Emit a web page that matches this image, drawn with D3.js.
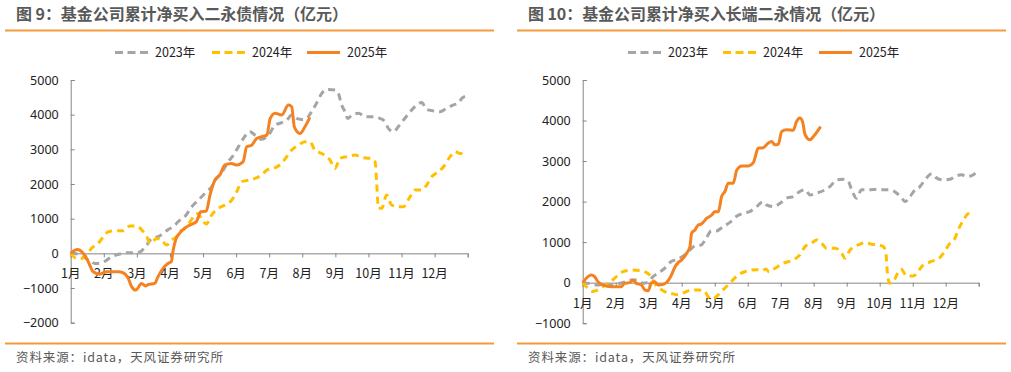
<!DOCTYPE html>
<html><head><meta charset="utf-8">
<script src="https://cdn.jsdelivr.net/npm/d3@7"></script>
<style>
html,body{margin:0;padding:0;background:#fff;}
svg{display:block;font-family:"Noto Sans CJK SC","Noto Sans",sans-serif;}
</style></head>
<body>
<svg id="c" width="1011" height="372"></svg>
<script>
// ---------- data ----------
const monthLabels = ["1月","2月","3月","4月","5月","6月","7月","8月","9月","10月","11月","12月"];
const seriesNames = ["2023年","2024年","2025年"];
const leftTicks = [5000,4000,3000,2000,1000,0,-1000,-2000];
const rightTicks = [5000,4000,3000,2000,1000,0,-1000];
const titleLeft = "图 9：基金公司累计净买入二永债情况（亿元）";
const titleRight = "图 10：基金公司累计净买入长端二永情况（亿元）";
const sourceText = "资料来源：idata，天风证券研究所";

// [month position (0 = 1月初), 亿元]
const left2023 = [[0,0],[0.2,-20],[0.4,-110],[0.6,-230],[0.73,-290],[0.94,-270],[1.24,-95],[1.49,-20],[1.74,20],[2.0,20],[2.14,70],[2.3,240],[2.45,430],[2.65,480],[2.8,577],[2.95,690],[3.1,770],[3.25,915],[3.45,1060],[3.66,1345],[3.86,1540],[4.06,1730],[4.26,1920],[4.41,2160],[4.61,2400],[4.76,2640],[4.92,2835],[5.07,3075],[5.22,3315],[5.42,3510],[5.57,3410],[5.77,3290],[5.98,3410],[6.18,3700],[6.38,3770],[6.53,3840],[6.68,3990],[6.83,3890],[6.98,3860],[7.13,3890],[7.28,4085],[7.43,4330],[7.59,4615],[7.74,4730],[7.99,4710],[8.09,4615],[8.19,4280],[8.29,4085],[8.37,3890],[8.5,3990],[8.7,4040],[8.9,3940],[9.15,3940],[9.35,3890],[9.5,3795],[9.6,3605],[9.76,3510],[9.9,3650],[10.06,3845],[10.26,4085],[10.46,4280],[10.61,4350],[10.76,4150],[10.96,4110],[11.16,4085],[11.36,4180],[11.57,4280],[11.72,4330],[11.82,4470],[11.97,4540]];
const left2024 = [[0,0],[0.18,-145],[0.33,-145],[0.48,-50],[0.63,145],[0.83,290],[0.99,480],[1.14,625],[1.39,650],[1.59,650],[1.79,790],[1.99,790],[2.15,670],[2.3,480],[2.4,290],[2.6,430],[2.75,385],[2.9,240],[3.05,385],[3.2,480],[3.3,625],[3.45,720],[3.6,900],[3.75,1100],[3.85,1150],[3.95,1000],[4.1,850],[4.26,1105],[4.46,1300],[4.66,1395],[4.87,1540],[5.02,1780],[5.17,2065],[5.37,2110],[5.57,2160],[5.77,2260],[5.93,2400],[6.18,2470],[6.38,2600],[6.53,2790],[6.68,2980],[6.88,3120],[7.08,3220],[7.23,3220],[7.38,2980],[7.59,2880],[7.84,2690],[7.99,2450],[8.14,2740],[8.34,2790],[8.6,2835],[8.8,2760],[9.06,2740],[9.2,2640],[9.25,2020],[9.3,1300],[9.4,1300],[9.55,1680],[9.7,1395],[9.9,1345],[10.05,1345],[10.26,1635],[10.41,1825],[10.61,1825],[10.76,1970],[10.91,2210],[11.11,2355],[11.27,2500],[11.47,2790],[11.62,2930],[11.77,2880],[11.97,2880]];
const left2025 = [[0,0],[0.2,110],[0.38,0],[0.53,-240],[0.68,-530],[0.88,-600],[1.09,-530],[1.44,-530],[1.59,-560],[1.74,-720],[1.84,-960],[1.97,-1060],[2.14,-866],[2.26,-940],[2.34,-900],[2.54,-866],[2.64,-670],[2.79,-433],[2.94,-290],[3.04,-240],[3.09,50],[3.19,433],[3.29,577],[3.44,720],[3.6,815],[3.8,915],[3.93,1200],[4.1,1220],[4.21,1680],[4.36,2115],[4.51,2260],[4.66,2550],[4.86,2590],[5.01,2550],[5.21,2640],[5.32,3075],[5.47,3120],[5.62,3315],[5.77,3365],[5.93,3410],[6.03,3890],[6.18,4040],[6.38,3990],[6.58,4280],[6.68,4230],[6.76,3650],[6.93,3460],[7.08,3650],[7.23,3920]];

const right2023 = [[0,0],[0.26,-25],[0.46,-57],[0.67,-30],[0.87,-57],[1.07,-30],[1.32,25],[1.47,65],[1.67,65],[1.83,-15],[1.98,10],[2.13,150],[2.28,230],[2.48,355],[2.68,520],[2.89,580],[3.09,685],[3.24,800],[3.4,905],[3.59,930],[3.74,1095],[3.9,1275],[4.05,1275],[4.25,1380],[4.45,1480],[4.65,1630],[4.86,1710],[5.06,1755],[5.27,1875],[5.47,2000],[5.57,1920],[5.78,1875],[5.98,1960],[6.18,2085],[6.38,2125],[6.58,2250],[6.74,2290],[6.89,2165],[7.09,2210],[7.34,2290],[7.49,2370],[7.7,2535],[7.9,2550],[8.05,2495],[8.15,2290],[8.3,2085],[8.45,2290],[8.66,2290],[8.81,2300],[9.06,2290],[9.31,2290],[9.52,2205],[9.67,2085],[9.77,2000],[9.92,2125],[10.07,2290],[10.22,2370],[10.37,2535],[10.58,2685],[10.73,2580],[10.93,2535],[11.13,2550],[11.28,2620],[11.48,2660],[11.64,2620],[11.79,2640],[11.99,2780]];
const right2024 = [[0,0],[0.16,-140],[0.31,-220],[0.46,-180],[0.61,-100],[0.82,0],[1.02,150],[1.22,270],[1.47,310],[1.73,300],[1.93,250],[2.08,150],[2.18,-15],[2.33,-140],[2.48,-220],[2.68,-265],[2.89,-300],[3.09,-240],[3.29,-180],[3.49,-180],[3.7,-220],[3.8,-345],[3.9,-410],[4.05,-345],[4.2,-220],[4.35,-100],[4.5,25],[4.71,190],[4.91,270],[5.11,310],[5.3,320],[5.45,300],[5.55,340],[5.65,270],[5.83,355],[6.08,480],[6.33,545],[6.58,685],[6.74,890],[6.94,975],[7.09,1055],[7.24,975],[7.39,850],[7.65,850],[7.85,725],[7.95,600],[8.1,805],[8.35,930],[8.55,985],[8.76,950],[8.96,930],[9.11,890],[9.19,725],[9.23,270],[9.3,-15],[9.41,25],[9.57,270],[9.65,330],[9.82,165],[10.02,165],[10.3,420],[10.55,520],[10.8,600],[10.93,725],[11.13,975],[11.28,1095],[11.38,1300],[11.54,1550],[11.69,1700],[11.84,1670]];
const right2025 = [[0,0],[0.16,150],[0.26,190],[0.36,150],[0.46,25],[0.61,-57],[0.87,-100],[1.17,-100],[1.27,-15],[1.42,0],[1.52,67],[1.62,-15],[1.78,-57],[1.88,-180],[1.98,-200],[2.09,0],[2.18,25],[2.29,-57],[2.45,-40],[2.59,50],[2.69,190],[2.8,395],[2.9,500],[3.0,560],[3.15,725],[3.25,890],[3.3,1220],[3.4,1300],[3.5,1425],[3.6,1450],[3.76,1590],[3.91,1670],[4.0,1750],[4.11,1750],[4.21,2125],[4.31,2250],[4.41,2455],[4.56,2455],[4.67,2780],[4.82,2880],[5.02,2880],[5.17,2960],[5.32,3320],[5.47,3330],[5.62,3440],[5.72,3480],[5.83,3400],[5.93,3420],[6.03,3730],[6.18,3770],[6.38,3760],[6.48,3975],[6.58,4060],[6.66,3975],[6.74,3650],[6.89,3525],[6.99,3605],[7.21,3850]];

// ---------- styles ----------
const colors = ["#a5a5a5","#ffc000","#f58220"];
const dashes = ["7,5","7,5",null];
const accent = "#f39a3c";

const svg = d3.select("#c");

function panel(o){
  const g = svg.append("g");
  // title
  g.append("text").attr("x",o.titleX).attr("y",20).attr("font-size",16).attr("font-weight","bold")
   .attr("fill","#595959").attr("textLength",o.titleW).attr("lengthAdjust","spacing").text(o.title);
  g.append("line").attr("x1",o.lineX1).attr("x2",o.lineX2).attr("y1",30.5).attr("y2",30.5)
   .attr("stroke",accent).attr("stroke-width",2);
  // footer
  g.append("line").attr("x1",o.lineX1).attr("x2",o.lineX2).attr("y1",343.5).attr("y2",343.5)
   .attr("stroke",accent).attr("stroke-width",2);
  g.append("text").attr("x",o.titleX).attr("y",362).attr("font-size",12.5).attr("fill","#595959")
   .attr("textLength",207).attr("lengthAdjust","spacing").text(sourceText);

  const x = d3.scaleLinear().domain([0,12]).range([o.x0,o.x1]);
  const y = d3.scaleLinear().domain(o.yDomain).range([o.y1,80]);

  // y axis
  const ya = g.append("g").attr("transform",`translate(${o.x0},0)`)
    .call(d3.axisLeft(y).tickValues(o.ticks).tickSize(-4).tickPadding(12).tickFormat(d3.format("d")));
  ya.select(".domain").attr("stroke","#868686");
  ya.selectAll(".tick line").attr("stroke","#868686");
  ya.selectAll("text").attr("font-size",12.5).attr("fill","#222").attr("font-family","\"Noto Sans\",sans-serif");

  // x axis at zero
  const xa = g.append("g").attr("transform",`translate(0,${y(0)})`)
    .call(d3.axisBottom(x).tickValues(d3.range(0,13)).tickSize(4).tickFormat(""));
  xa.select(".domain").attr("stroke","#868686");
  xa.selectAll(".tick line").attr("stroke","#868686");
  g.selectAll(".mlab").data(monthLabels).join("text").attr("class","mlab")
    .attr("x",(d,i)=>x(i)).attr("y",y(0)+25).attr("text-anchor","middle")
    .attr("font-size",12.5).attr("fill","#222").text(d=>d);

  const line = d3.line().x(d=>x(d[0])).y(d=>y(d[1])).curve(d3.curveMonotoneX);
  o.series.forEach((s,i)=>{
    g.append("path").datum(s).attr("d",line).attr("fill","none")
      .attr("stroke",colors[i]).attr("stroke-width",3)
      .attr("stroke-dasharray",dashes[i]).attr("stroke-linejoin","round");
  });

  // legend
  o.legendX.forEach((lx,i)=>{
    g.append("line").attr("x1",lx).attr("x2",lx+33).attr("y1",52.5).attr("y2",52.5)
      .attr("stroke",colors[i]).attr("stroke-width",3).attr("stroke-dasharray",i<2?"8,4.5":null);
    g.append("text").attr("x",lx+40).attr("y",57).attr("font-size",12.5).attr("fill","#222").text(seriesNames[i]);
  });
}

panel({title:titleLeft,titleX:16,titleW:332,lineX1:5,lineX2:494,x0:70.7,x1:467.7,y1:322.7,yDomain:[-2000,5000],
  ticks:leftTicks,series:[left2023,left2024,left2025],legendX:[115,212,307]});
panel({title:titleRight,titleX:528,titleW:357,lineX1:517,lineX2:1006,x0:582.7,x1:978.7,y1:323.2,yDomain:[-1000,5000],
  ticks:rightTicks,series:[right2023,right2024,right2025],legendX:[628,723,819]});
</script>
</body></html>
